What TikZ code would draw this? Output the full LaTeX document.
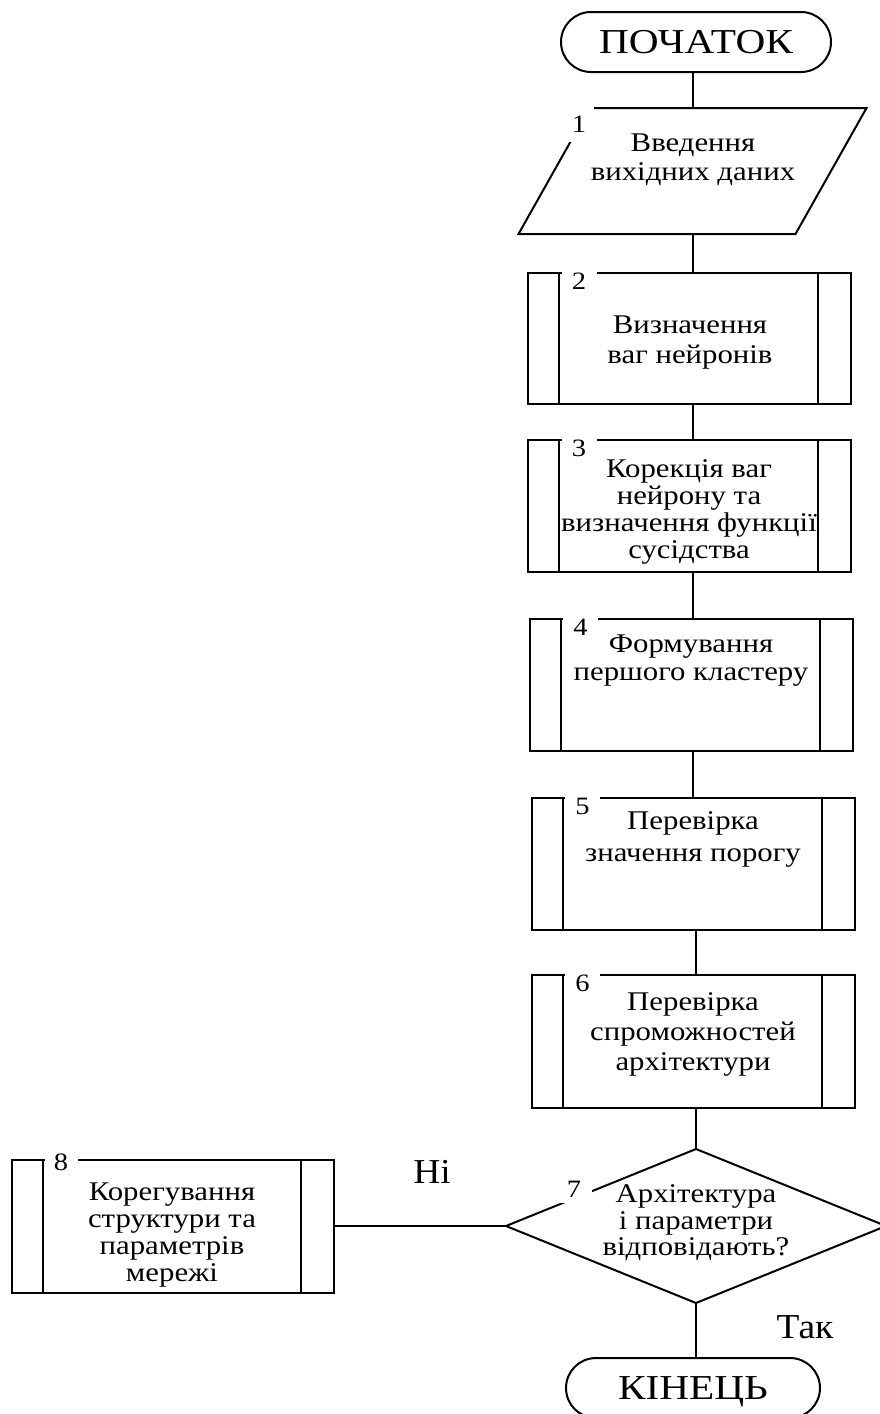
\documentclass[tikz,border=0pt]{standalone}
\usepackage{fontspec}
\setmainfont{Liberation Serif}[FakeStretch=1.14]
\newfontfamily\branchfont{Liberation Serif}[FakeStretch=1.07]
\newfontfamily\termfont{Liberation Serif}[FakeStretch=1.18]
\begin{document}
\begin{tikzpicture}[x=1pt,y=-1pt,line width=2pt,
  every node/.style={inner sep=0pt,outer sep=0pt},
  term/.style={draw,minimum height=60pt,rounded corners=30pt,text depth=0pt,font=\termfont\fontsize{35}{40}\selectfont},
  procbox/.style={draw,minimum width=323pt},
  body/.style={align=center,font=\fontsize{27}{28}\selectfont},
  numlab/.style={fill=white,minimum width=35pt,minimum height=24pt,font=\fontsize{25}{25}\selectfont},
  big/.style={font=\branchfont\fontsize{35}{40}\selectfont}
]
\useasboundingbox (0,0) rectangle (880,1414);

% terminals
\node[term,minimum width=270pt] (start) at (696,42) {ПОЧАТОК};
\node[term,minimum width=254pt] (end) at (693,1388) {КІНЕЦЬ};

% input parallelogram
\node[minimum width=348pt,minimum height=126pt] (in1) at (692.5,171) {};
\draw ([xshift=71pt]in1.north west) -- (in1.north east) -- ([xshift=-71pt]in1.south east) -- (in1.south west) -- cycle;
\node[body,font=\fontsize{27}{29}\selectfont] (t1) at (693,160) {Введення\\вихідних даних};

% predefined process boxes
\node[procbox,minimum height=131pt] (b2) at (689.5,338.5) {};
\node[procbox,minimum height=132pt] (b3) at (689.5,506) {};
\node[procbox,minimum height=132pt] (b4) at (691,685) {};
\node[procbox,minimum height=132pt] (b5) at (693,864) {};
\node[procbox,minimum height=133pt] (b6) at (693,1041.5) {};
\node[draw,minimum width=322pt,minimum height=133pt] (b8) at (172.5,1226) {};
\foreach \b in {b2,b3,b4,b5,b6,b8}{
  \draw ([xshift=31pt]\b.north west) -- ([xshift=31pt]\b.south west);
  \draw ([xshift=-33pt]\b.north east) -- ([xshift=-33pt]\b.south east);
}

% decision
\node[minimum width=380pt,minimum height=154pt] (d7) at (696,1226) {};
\draw (d7.north) -- (d7.east) -- (d7.south) -- (d7.west) -- cycle;

% texts
\node[body,font=\fontsize{27}{30}\selectfont] (t2) at (690,343) {Визначення\\ваг нейронів};
\node[body,font=\fontsize{27}{27}\selectfont] (t3) at (689,512) {Корекція ваг\\нейрону та\\визначення функції\\сусідства};
\node[body] (t4) at (691,661) {Формування\\першого кластеру};
\node[body,font=\fontsize{27}{32}\selectfont] (t5) at (693,839) {Перевірка\\значення порогу};
\node[body,font=\fontsize{27}{30}\selectfont] (t6) at (693,1034) {Перевірка\\спроможностей\\архітектури};
\node[body,font=\fontsize{27}{26.5}\selectfont] (t7) at (696,1223) {Архітектура\\і параметри\\відповідають?};
\node[body,font=\fontsize{27}{26.7}\selectfont] (t8) at (172,1235) {Корегування\\структури та\\параметрів\\мережі};

% connectors
\draw (in1.north |- start.south) -- (in1.north);
\draw (in1.south) -- (in1.south |- b2.north);
\draw (b2.south -| in1.south) -- (b3.north -| in1.south);
\draw (b3.south -| b5.north) -- (b4.north -| b5.north);
\draw (b4.south -| b5.north) -- (b5.north);
\draw (b5.south -| d7.north) -- (b6.north -| d7.north);
\draw (b6.south -| d7.north) -- (d7.north);
\draw (d7.south) -- (d7.south |- end.north);
\draw (d7.west) -- (b8.east);

% number labels
\node[fill=white,minimum width=30pt,minimum height=36pt,font=\fontsize{25}{25}\selectfont] (l1) at (579,124) {1};
\node[numlab] (l2) at ([xshift=51pt,yshift=-8pt]b2.north west) {2};
\node[numlab] (l3) at ([xshift=51pt,yshift=-8pt]b3.north west) {3};
\node[numlab] (l4) at ([xshift=51pt,yshift=-8pt]b4.north west) {4};
\node[numlab] (l5) at ([xshift=51pt,yshift=-8pt]b5.north west) {5};
\node[numlab] (l6) at ([xshift=51pt,yshift=-8pt]b6.north west) {6};
\node[numlab,minimum width=33pt] (l8) at (61,1162) {8};
\node[numlab,minimum width=35pt,minimum height=28pt] (l7) at (574,1189) {7};

% branch labels
\node[big] (no) at (432,1172) {Ні};
\node[big] (yes) at (805,1327) {Так};
\end{tikzpicture}
\end{document}
